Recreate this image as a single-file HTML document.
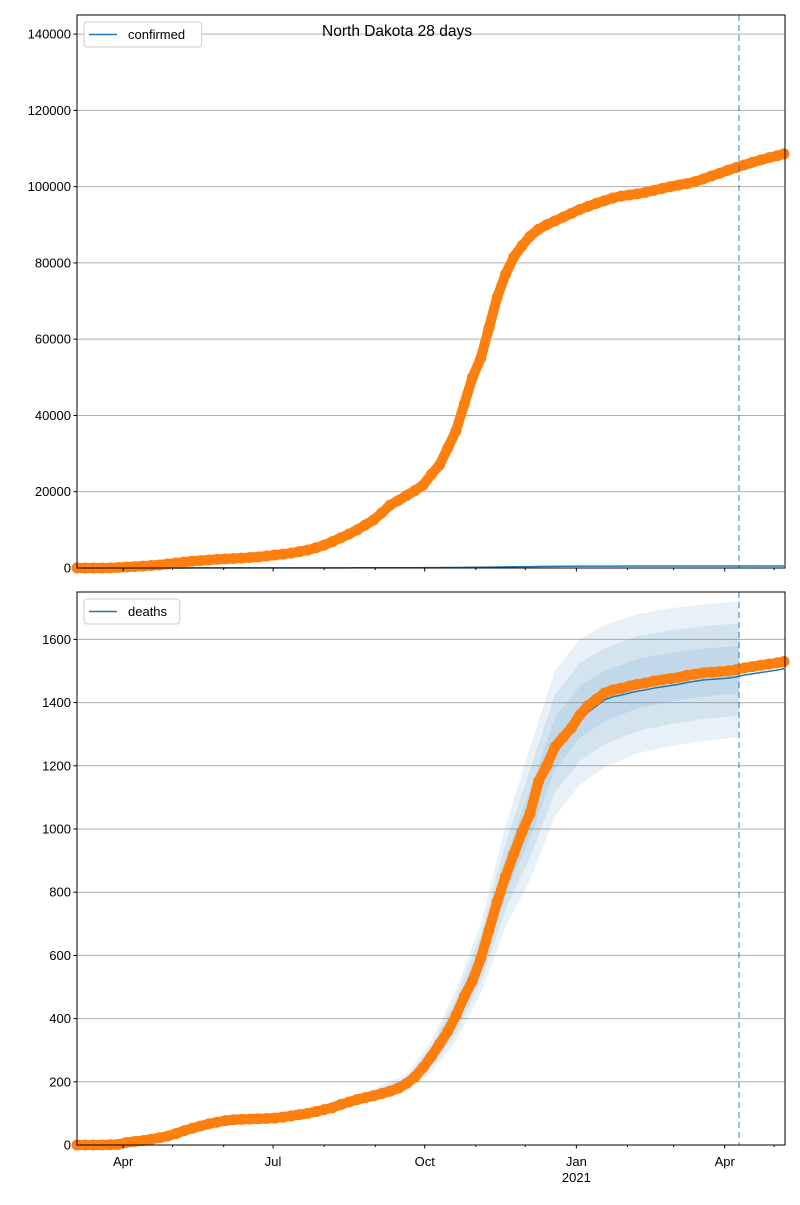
<!DOCTYPE html>
<html><head><meta charset="utf-8"><style>
body{margin:0;background:#fff;font-family:"Liberation Sans",sans-serif}
svg text{font-family:"Liberation Sans",sans-serif}
</style></head><body>
<svg id="c" width="800" height="1200" xmlns="http://www.w3.org/2000/svg"></svg>
<script>
const days=[0,5,10,15,20,25,30,35,40,45,50,55,60,65,70,75,80,85,90,95,100,105,110,115,120,125,130,135,140,145,150,155,160,165,170,175,180,185,190,195,200,205,210,215,220,225,230,235,240,245,250,255,260,265,270,275,280,285,290,295,300,305,310,315,320,325,330,335,340,345,350,355,360,365,370,375,380,385,390,395,400,405,410,415,420,425,429];
const confirmed=[0,0,0,10,40,120,250,370,500,650,800,1050,1300,1550,1800,1950,2100,2250,2400,2500,2600,2750,2900,3150,3400,3650,3900,4300,4700,5300,6000,6900,7900,8900,10000,11300,12600,14500,16500,17700,19000,20300,21700,24500,27000,31500,36000,43000,50000,55000,63000,71000,77000,81500,84500,87000,88800,90000,91000,92000,93000,94000,94800,95600,96300,97000,97500,97800,98100,98500,99000,99500,100000,100400,100800,101300,102000,102800,103500,104300,105000,105700,106400,107000,107600,108100,108600];
const deaths=[0,0,0,0,1,2,8,11,14,18,23,28,36,45,53,60,67,72,77,80,81,82,83,84,85,88,92,96,100,106,112,118,128,136,144,150,156,163,170,180,195,215,245,280,320,360,410,470,520,590,680,770,850,920,990,1050,1150,1200,1260,1290,1320,1360,1390,1410,1430,1440,1445,1452,1458,1462,1468,1472,1476,1480,1486,1490,1494,1496,1498,1500,1504,1510,1514,1518,1522,1526,1530];
const bandDays=[30,60,100,150,175,200,215,230,245,260,275,290,305,320,340,360,380,402];
const bandCenter=[8,36,81,112,150,195,280,410,590,850,1050,1270,1370,1420,1460,1480,1495,1505];
const outerHalf=[3,6,9,12,18,28,50,80,110,160,210,230,230,225,220,218,216,215];
const midHalf=[2,4,6,8,12,18,32,55,75,105,140,155,155,152,150,148,147,146];
const innerHalf=[1,2,3,4,6,10,18,30,42,58,75,82,82,80,78,77,76,75];
const monthTicks=[28,58,89,119,150,181,211,242,272,303,334,362,393,423];
const majorLabels={28:"Apr",119:"Jul",211:"Oct",303:"Jan",393:"Apr"};
const yTicksTop=[0,20000,40000,60000,80000,100000,120000,140000];
const yTicksBot=[0,200,400,600,800,1000,1200,1400,1600];
const forecastDay=401.7;

const svg=document.getElementById('c');const NS="http://www.w3.org/2000/svg";
function mk(t,a,p){const e=document.createElementNS(NS,t);for(const k in a)e.setAttribute(k,a[k]);(p||svg).appendChild(e);return e;}
const X0=77,X1=785,D0=0,D1=429.6;
const xs=d=>X0+(d-D0)/(D1-D0)*(X1-X0);
function panel(top,bot,ymax,yTicks,values,label,withBands,name,lineScale){
  const ys=v=>bot-(v/ymax)*(bot-top);
  const g=mk('g',{});
  
  
  yTicks.forEach(t=>{
    const y=ys(t);
    const l=mk('line',{x1:X0,x2:X1,y1:y,y2:y,stroke:'#b0b0b0','stroke-width':1},g);
    
    mk('line',{x1:X0-3.5,x2:X0,y1:y,y2:y,stroke:'#000'},g);
    const tx=mk('text',{x:X0-6,y:y+4.5,'text-anchor':'end','font-size':13},g);tx.textContent=t;
    
  });
  if(withBands){
    [outerHalf,midHalf,innerHalf].forEach(h=>{
      let pts=bandDays.map((d,i)=>xs(d)+','+ys(bandCenter[i]+h[i]));
      pts=pts.concat(bandDays.map((d,i)=>xs(d)+','+ys(Math.max(0,bandCenter[i]-h[i]))).reverse());
      const p=mk('polygon',{points:pts.join(' '),fill:'#1f77b4','fill-opacity':0.1},g);
      
    });
  }
  const lp=mk('polyline',{points:days.map((d,i)=>xs(Math.min(d,D1))+','+ys(deaths[i]*lineScale)).join(' '),fill:'none',stroke:'#1f77b4','stroke-width':1.5},g);
  
  const dg=mk('g',{fill:'#ff7f0e'},g);
  
  mk('polyline',{points:days.map((d,i)=>xs(Math.min(d,D1))+','+ys(values[i])).join(' '),fill:'none',stroke:'#ff7f0e','stroke-width':10,'stroke-linejoin':'round'},dg);
  days.forEach((d,i)=>{const c=mk('circle',{cx:xs(Math.min(d,D1)),cy:ys(values[i]),r:5.5},dg);
    });
  const fl=mk('line',{x1:xs(forecastDay),x2:xs(forecastDay),y1:top,y2:bot,stroke:'#1f77b4','stroke-opacity':0.6,'stroke-width':1.5,'stroke-dasharray':'6,4'},g);
  
  monthTicks.forEach(d=>{const x=xs(d);const major=majorLabels[d]!==undefined;
    mk('line',{x1:x,x2:x,y1:bot,y2:bot+(major?3.5:2),stroke:'#000'},g);});
  const fr=mk('rect',{x:X0,y:top,width:X1-X0,height:bot-top,fill:'none',stroke:'#000','stroke-width':1},g);
  
  const lg=mk('g',{},g);
  
  const w=label.length*7.3+52;
  mk('rect',{x:84,y:top+7,width:w,height:25,rx:3,fill:'#fff',stroke:'#ccc'},lg);
  mk('line',{x1:89,x2:117,y1:top+19.5,y2:top+19.5,stroke:'#1f77b4','stroke-width':1.5},lg);
  const lt=mk('text',{x:128,y:top+24,'font-size':13},lg);lt.textContent=label;
  return ys;
}
panel(15,568,145000,yTicksTop,confirmed,'confirmed',false,'confirmed-panel',0.35);
panel(592,1145,1750,yTicksBot,deaths,'deaths',true,'deaths-panel',0.985);
for(const d in majorLabels){const t=mk('text',{x:xs(+d),y:1166,'text-anchor':'middle','font-size':13});t.textContent=majorLabels[d];
  }
const yr=mk('text',{x:xs(303),y:1182,'text-anchor':'middle','font-size':13});yr.textContent='2021';

const ti=mk('text',{x:397,y:36,'text-anchor':'middle','font-size':15.5});ti.textContent='North Dakota 28 days';

</script>
</body></html>
